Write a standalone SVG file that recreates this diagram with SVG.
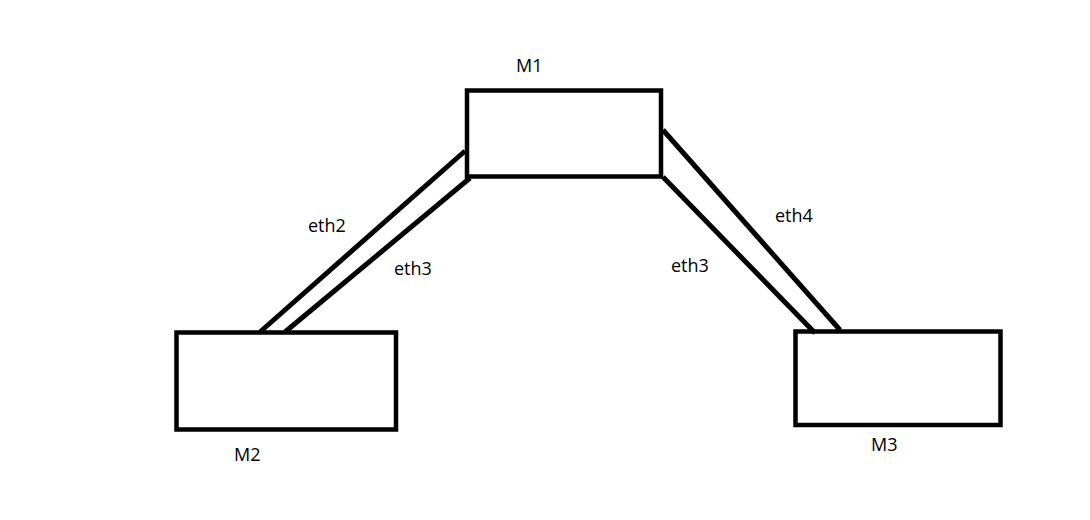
<svg xmlns="http://www.w3.org/2000/svg" width="1090" height="520" viewBox="0 0 1090 520">
<style>
.box{fill:none;stroke:#000;stroke-width:4.5}
.ln{stroke:#000;stroke-width:5;fill:none}
text{font-family:"Open Sans","Liberation Sans",sans-serif;font-size:18px;fill:#000}
</style>
<rect width="1090" height="520" fill="#fff"/>
<g id="connectors">
<line class="ln" x1="465" y1="151" x2="260" y2="332"/>
<line class="ln" x1="470" y1="178" x2="285" y2="332"/>
<line class="ln" x1="663" y1="130" x2="840" y2="330"/>
<line class="ln" x1="663" y1="177" x2="815" y2="333"/>
<text x="308" y="232">eth2</text>
<text x="394" y="275">eth3</text>
<text x="671" y="272">eth3</text>
<text x="775" y="222">eth4</text>
</g>
<g id="M1">
<rect class="box" x="467" y="90.5" width="194" height="86"/>
<text x="516" y="72">M1</text>
</g>
<g id="M2">
<rect class="box" x="176.5" y="332.5" width="219.5" height="97"/>
<text x="234" y="461">M2</text>
</g>
<g id="M3">
<rect class="box" x="795.5" y="331.5" width="205" height="93.5"/>
<text x="871" y="451">M3</text>
</g>
</svg>
